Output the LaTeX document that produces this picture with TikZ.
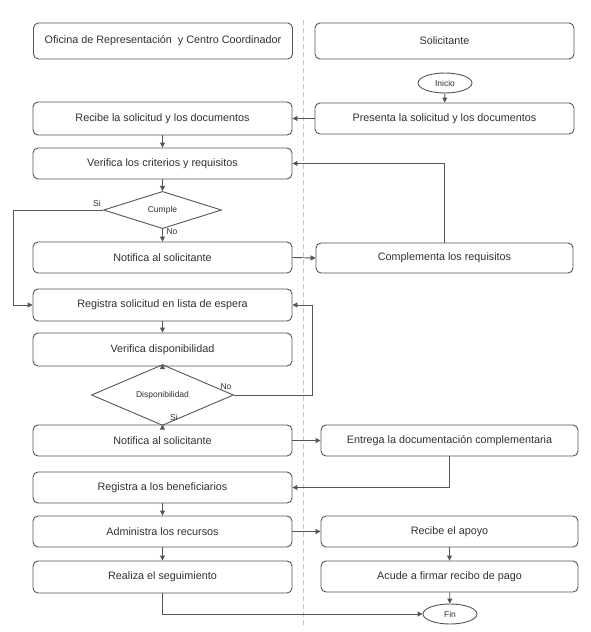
\documentclass[tikz,border=0pt]{standalone}
\usepackage{fontspec}
\setmainfont{Liberation Sans}
\usetikzlibrary{shapes.geometric,arrows.meta}
\definecolor{ln}{HTML}{555555}
\definecolor{tx}{HTML}{303030}
\tikzset{
  box/.style={draw=ln, line width=0.9pt, rounded corners=5pt, rectangle, inner sep=0pt, text=tx, font=\fontsize{10.8}{12}\selectfont},
  dec/.style={draw=ln, line width=0.9pt, diamond, inner sep=0pt, text=tx, font=\fontsize{8.5}{10}\selectfont},
  term/.style={draw=ln, line width=0.9pt, ellipse, inner sep=0pt, minimum width=54pt, minimum height=20pt, text=tx, font=\fontsize{8.5}{10}\selectfont},
  lab/.style={text=tx, font=\fontsize{8.5}{10}\selectfont, inner sep=1pt},
  conn/.style={draw=ln, line width=0.9pt, -{Triangle[length=5pt,width=5pt]}},
  plain/.style={draw=ln, line width=0.9pt},
}
\begin{document}
\begin{tikzpicture}[x=1pt,y=-1pt]
\useasboundingbox (0,0) rectangle (590,632);
\draw[gray!45, line width=0.9pt, dash pattern=on 5pt off 3pt] (303.5,20) -- (303.5,625);
% left column
\node[box, minimum width=259pt, minimum height=36pt] (hdrL) at (163,41) {Oficina de Representación \ y Centro Coordinador};
\node[box, minimum width=259pt, minimum height=33pt] (recibe) at (162.5,118.5) {Recibe la solicitud y los documentos};
\node[box, minimum width=259pt, minimum height=31pt] (verif) at (162.5,163.5) {Verifica los criterios y requisitos};
\node[dec, minimum width=118pt, minimum height=34pt] (cumple) at (162.5,210) {Cumple};
\node[box, minimum width=259pt, minimum height=31pt] (notif1) at (162.5,257.5) {Notifica al solicitante};
\node[box, minimum width=259pt, minimum height=32pt] (regsol) at (162.5,305) {Registra solicitud en lista de espera};
\node[box, minimum width=259pt, minimum height=33pt] (verdisp) at (162.5,349.5) {Verifica disponibilidad};
\node[dec, minimum width=142pt, minimum height=34pt] (disp) at (162.5,395) {Disponibilidad};
\node[box, minimum width=259pt, minimum height=31pt] (notif2) at (162.5,440.5) {Notifica al solicitante};
\node[box, minimum width=259pt, minimum height=31pt] (regben) at (162.5,487.5) {Registra a los beneficiarios};
\node[box, minimum width=259pt, minimum height=31pt] (admin) at (162.5,531.5) {Administra los recursos};
\node[box, minimum width=259pt, minimum height=32pt] (realiza) at (162.5,577) {Realiza el seguimiento};
% right column
\node[box, minimum width=259pt, minimum height=36pt] (hdrR) at (444.5,41) {Solicitante};
\node[term] (inicio) at (445,83) {Inicio};
\node[box, minimum width=259pt, minimum height=31pt] (presenta) at (444.5,118.5) {Presenta la solicitud y los documentos};
\node[box, minimum width=257pt, minimum height=30pt] (compl) at (444.5,258) {Complementa los requisitos};
\node[box, minimum width=257pt, minimum height=31pt] (entrega) at (449.5,440.5) {Entrega la documentación complementaria};
\node[box, minimum width=257pt, minimum height=31pt] (apoyo) at (449.5,531.5) {Recibe el apoyo};
\node[box, minimum width=257pt, minimum height=31pt] (acude) at (449.5,576.5) {Acude a firmar recibo de pago};
\node[term] (fin) at (450,614) {Fin};
\coordinate (siL) at (13,210);
\coordinate (noR) at (312,395);
% connectors
\draw[conn] (inicio) -- (presenta);
\draw[conn] (presenta.west) -- (recibe.east);
\draw[conn] (recibe) -- (verif);
\draw[conn] (verif) -- (cumple);
\draw[conn] (cumple.west) -- (siL) |- (regsol.west);
\draw[conn] (cumple.south) -- (notif1.north);
\draw[conn] (notif1.east) -- (compl.west);
\draw[conn] (compl.north) |- (verif.east);
\draw[conn] (regsol) -- (verdisp);
\draw[conn] (verdisp) -- (disp);
\draw[conn] (disp.east) -- (noR) |- (regsol.east);
\draw[conn] (disp.south) -- (notif2.north);
\draw[conn] (notif2.east) -- (entrega.west);
\draw[conn] (entrega.south) |- (regben.east);
\draw[conn] (regben) -- (admin);
\draw[conn] (admin) -- (realiza);
\draw[conn] (admin.east) -- (apoyo.west);
\draw[conn] (apoyo) -- (acude);
\draw[conn] (acude) -- (fin);
\draw[conn] (realiza.south) |- (fin.west);
% labels
\node[lab] (lsi1) at (97,203) {Si};
\node[lab] (lno1) at (172,232) {No};
\node[lab] (lno2) at (226,387) {No};
\node[lab] (lsi2) at (174,417) {Si};
\end{tikzpicture}
\end{document}
